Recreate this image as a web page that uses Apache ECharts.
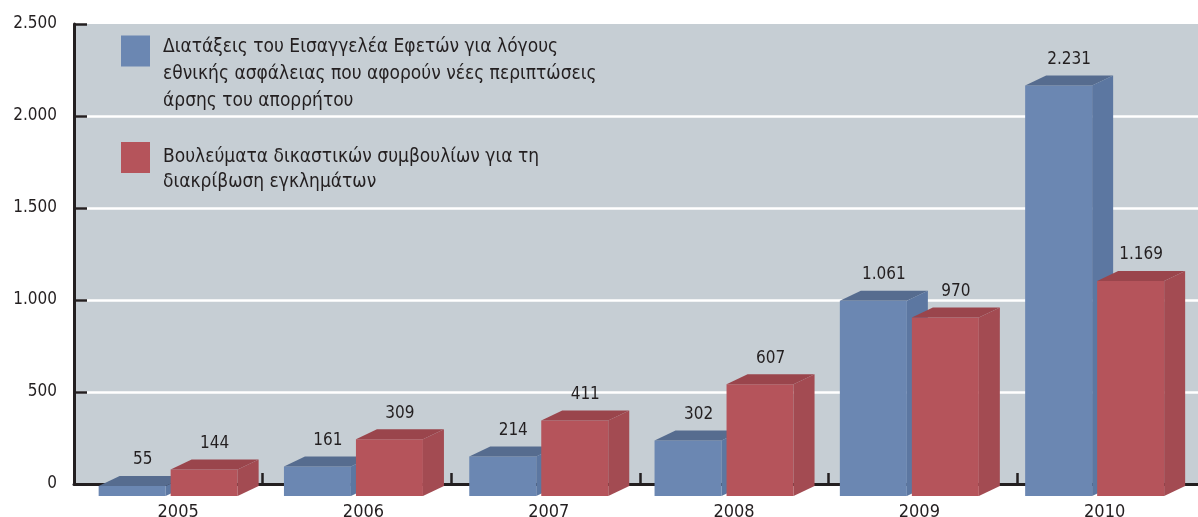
<!DOCTYPE html>
<html>
<head>
<meta charset="utf-8">
<script src="https://cdn.jsdelivr.net/npm/echarts@6/dist/echarts.min.js"></script>
<style>
  html, body { margin: 0; padding: 0; background: #fff; }
  #chart { width: 1198px; height: 517px; }
</style>
</head>
<body>
<div id="chart"></div>
<script>
// data
var years = ['2005', '2006', '2007', '2008', '2009', '2010'];
var prosecutorOrders = [55, 161, 214, 302, 1061, 2231];
var councilDecisions = [144, 309, 411, 607, 970, 1169];
var seriesNames = ['Διατάξεις Εισαγγελέα Εφετών', 'Βουλεύματα δικαστικών συμβουλίων'];
var legendLines = [
  ['Διατάξεις του Εισαγγελέα Εφετών για λόγους', 'εθνικής ασφάλειας που αφορούν νέες περιπτώσεις', 'άρσης του απορρήτου'],
  ['Βουλεύματα δικαστικών συμβουλίων για τη', 'διακρίβωση εγκλημάτων']
];
var yTicks = { min: 0, max: 2500, interval: 500 };

var FONT = '"DejaVu Sans Condensed", "DejaVu Sans", sans-serif';
var INK = '#231f20';
var faces = [
  { front: '#6b87b2', top: '#566c8f', side: '#5c77a1' },
  { front: '#b5545b', top: '#9a454c', side: '#a34b52' }
];

function fmt(v) { // 2231 -> 2.231
  return String(v).replace(/\B(?=(\d{3})+(?!\d))/g, '.');
}

function box(which) { // 3D-like bar: front, top and side faces
  var W = 67, DX = 21, DY = 10, GAP = 2.5;
  return function (params, api) {
    var c = api.value(0), v = api.value(1);
    var base = api.coord([c, 0]);
    var top = api.coord([c, v]);
    var x0 = which === 0 ? base[0] - GAP - W : base[0] + GAP;
    var y0 = top[1], yb = base[1];
    var f = faces[which];
    return {
      type: 'group',
      children: [
        { type: 'rect', shape: { x: x0, y: y0, width: W, height: yb - y0 }, style: { fill: f.front } },
        { type: 'polygon', shape: { points: [[x0, y0], [x0 + DX, y0 - DY], [x0 + W + DX, y0 - DY], [x0 + W, y0]] }, style: { fill: f.top } },
        { type: 'polygon', shape: { points: [[x0 + W, y0], [x0 + W + DX, y0 - DY], [x0 + W + DX, yb - DY], [x0 + W, yb]] }, style: { fill: f.side } },
        { type: 'text', x: x0 + W / 2 + DX / 2, y: y0 - 26,
          style: { text: fmt(v), fill: INK, fontSize: 17, fontFamily: FONT, align: 'center', verticalAlign: 'middle' } }
      ]
    };
  };
}

function toPairs(arr) {
  return arr.map(function (v, i) { return [i, v]; });
}

function legendText(i) { // spacer line first, so the text starts near the top of the swatch
  return function () {
    return '{s| }\n' + legendLines[i].map(function (l) { return '{t|' + l + '}'; }).join('\n');
  };
}

function legendStyle(spacer, lh) {
  return {
    color: INK, fontSize: 19, fontFamily: FONT, padding: [0, 0, 0, 8],
    rich: {
      s: { lineHeight: spacer, fontSize: 2 },
      t: { lineHeight: lh, fontSize: 19, fontFamily: FONT, color: INK }
    }
  };
}

var chart = echarts.init(document.getElementById('chart'));
chart.setOption({
  animation: false,
  textStyle: { fontFamily: FONT },
  grid: [
    { left: 74, right: -8, top: 24, bottom: 33, show: true, backgroundColor: '#c6ced4', borderWidth: 0, outerBoundsMode: 'none', containLabel: false },
    { left: 75.5, right: 10.7, top: 36, bottom: 21, outerBoundsMode: 'none', containLabel: false }
  ],
  legend: [
    {
      left: 121, top: 9.5, padding: 0, orient: 'vertical', icon: 'rect', itemWidth: 29, itemHeight: 31,
      selectedMode: false,
      data: [seriesNames[0]],
      formatter: legendText(0),
      textStyle: legendStyle(47, 27)
    },
    {
      left: 121, top: 131, padding: 0, orient: 'vertical', icon: 'rect', itemWidth: 29, itemHeight: 31,
      selectedMode: false,
      data: [seriesNames[1]],
      formatter: legendText(1),
      textStyle: legendStyle(24, 25.5)
    }
  ],
  xAxis: [
    { // frame axis: line and band ticks
      type: 'category', gridIndex: 0, data: years, boundaryGap: true,
      axisLine: { show: true, lineStyle: { color: INK, width: 3 } },
      axisTick: { show: true, inside: true, length: 11, lineStyle: { color: INK, width: 2.5 } },
      axisLabel: { show: false }, splitLine: { show: false }
    },
    { // bar axis: year labels
      type: 'category', gridIndex: 1, data: years, boundaryGap: true,
      axisLine: { show: false }, axisTick: { show: false },
      axisLabel: { show: true, color: INK, fontSize: 18, fontFamily: FONT, margin: 7, padding: [0, 0, 0, 20] },
      splitLine: { show: false }
    }
  ],
  yAxis: [
    { // white grid lines
      type: 'value', gridIndex: 0, position: 'left', min: yTicks.min, max: yTicks.max, interval: yTicks.interval, z: 0,
      axisLine: { show: false }, axisTick: { show: false }, axisLabel: { show: false },
      splitLine: { show: true, showMinLine: false, showMaxLine: false, lineStyle: { color: '#ffffff', width: 2.5 } }
    },
    { // axis line, ticks and labels over the grid lines
      type: 'value', gridIndex: 0, position: 'left', offset: 0, min: yTicks.min, max: yTicks.max, interval: yTicks.interval, z: 1,
      axisLine: { show: true, lineStyle: { color: INK, width: 3 } },
      axisTick: { show: true, inside: true, length: 13, lineStyle: { color: INK, width: 2.5 } },
      axisLabel: { show: true, color: INK, fontSize: 17, fontFamily: FONT, margin: 17, formatter: fmt },
      splitLine: { show: false }
    },
    { // scale of the bars, hidden
      type: 'value', gridIndex: 1, min: yTicks.min, max: yTicks.max, show: false,
      splitLine: { show: false }
    }
  ],
  series: [
    {
      name: seriesNames[0], type: 'custom', xAxisIndex: 1, yAxisIndex: 2,
      itemStyle: { color: faces[0].front },
      renderItem: box(0), data: toPairs(prosecutorOrders), z: 3
    },
    {
      name: seriesNames[1], type: 'custom', xAxisIndex: 1, yAxisIndex: 2,
      itemStyle: { color: faces[1].front },
      renderItem: box(1), data: toPairs(councilDecisions), z: 4
    }
  ]
});
</script>
</body>
</html>
